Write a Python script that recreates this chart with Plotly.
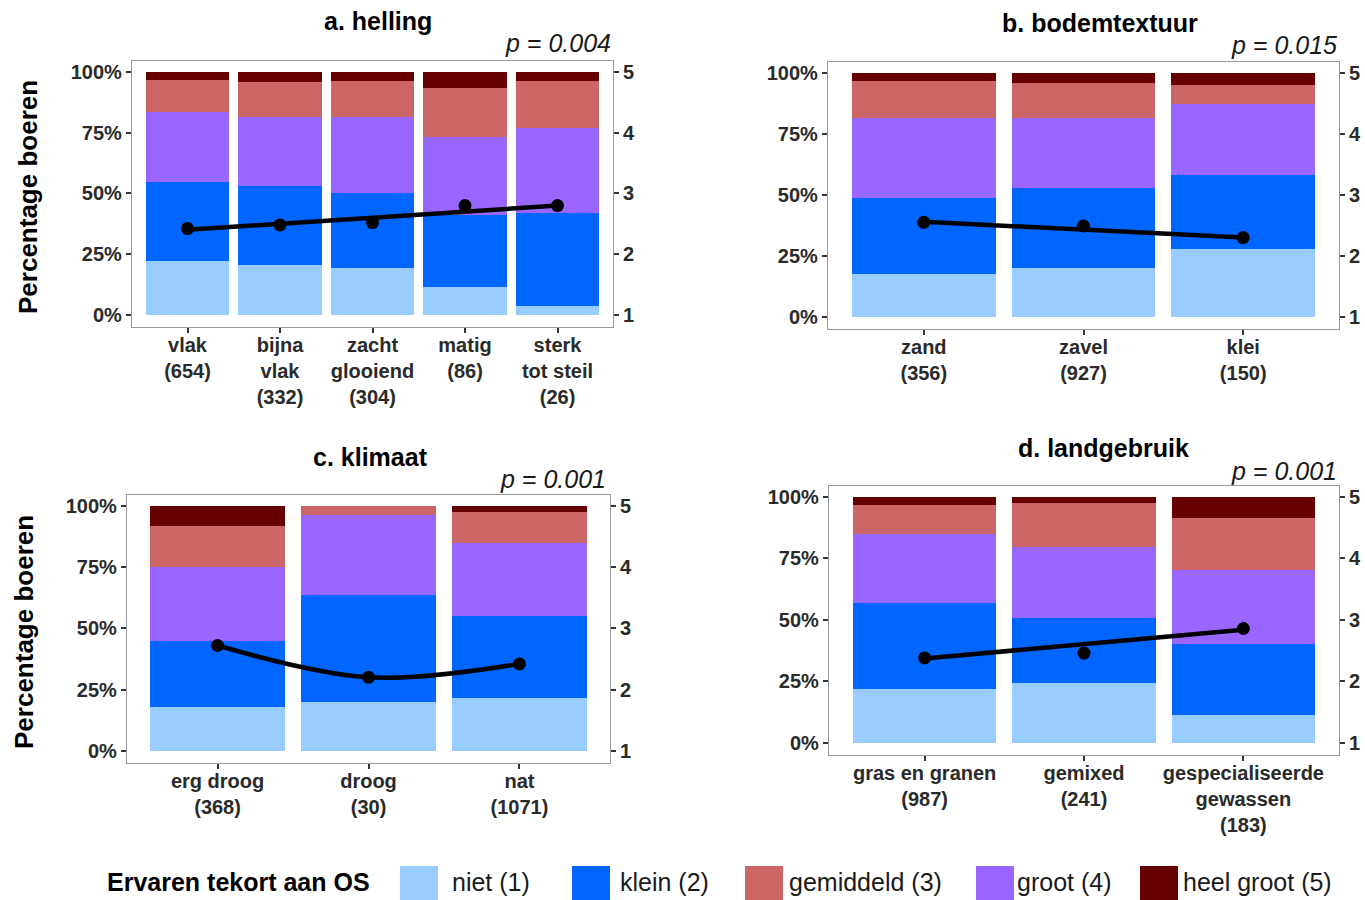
import plotly.graph_objects as go

W, H = 1365, 900

# ---------------- data ----------------
level_labels = ["niet (1)", "klein (2)", "gemiddeld (3)", "groot (4)", "heel groot (5)"]
level_colors = ["#99CCFF", "#0066FF", "#CC6666", "#9966FF", "#660000"]
# stacking order bottom -> top as drawn in the reference
stack_order = ["niet (1)", "klein (2)", "groot (4)", "gemiddeld (3)", "heel groot (5)"]

# a. helling
a_cats = ["vlak<br>(654)", "bijna<br>vlak<br>(332)", "zacht<br>glooiend<br>(304)", "matig<br>(86)", "sterk<br>tot steil<br>(26)"]
a_niet = [22.0, 20.5, 19.2, 11.3, 3.5]
a_klein = [32.8, 32.4, 30.9, 30.0, 38.5]
a_groot = [28.8, 28.7, 31.5, 31.9, 35.0]
a_gemiddeld = [13.0, 14.3, 14.6, 20.1, 19.3]
a_heelgroot = [3.4, 4.1, 3.8, 6.7, 3.7]
a_mean = [2.42, 2.48, 2.52, 2.80, 2.80]
a_fit = [2.40, 2.50, 2.60, 2.70, 2.80]

# b. bodemtextuur
b_cats = ["zand<br>(356)", "zavel<br>(927)", "klei<br>(150)"]
b_niet = [17.4, 20.1, 27.9]
b_klein = [31.5, 32.6, 30.2]
b_groot = [32.6, 28.8, 29.2]
b_gemiddeld = [15.3, 14.4, 7.8]
b_heelgroot = [3.2, 4.1, 4.9]
b_mean = [2.55, 2.49, 2.30]
b_fit = [2.56, 2.43, 2.30]

# c. klimaat
c_cats = ["erg droog<br>(368)", "droog<br>(30)", "nat<br>(1071)"]
c_niet = [18.0, 20.1, 21.7]
c_klein = [26.8, 43.7, 33.5]
c_groot = [30.1, 32.4, 29.6]
c_gemiddeld = [17.1, 3.8, 12.9]
c_heelgroot = [8.0, 0.0, 2.3]
c_mean = [2.72, 2.20, 2.42]
c_fit = [2.72, 2.20, 2.42]

# d. landgebruik
d_cats = ["gras en granen<br>(987)", "gemixed<br>(241)", "gespecialiseerde<br>gewassen<br>(183)"]
d_niet = [22.0, 24.4, 11.3]
d_klein = [34.7, 26.5, 29.0]
d_groot = [28.4, 28.7, 30.0]
d_gemiddeld = [11.5, 18.1, 21.0]
d_heelgroot = [3.4, 2.3, 8.7]
d_mean = [2.38, 2.46, 2.86]
d_fit = [2.37, 2.61, 2.84]

titles = ["a. helling", "b. bodemtextuur", "c. klimaat", "d. landgebruik"]
pvalues = ["p = 0.004", "p = 0.015", "p = 0.001", "p = 0.001"]
y_title = "Percentage boeren"
legend_title = "Ervaren tekort aan OS"
pct_ticks = [0, 25, 50, 75, 100]
pct_labels = ["0%", "25%", "50%", "75%", "100%"]
score_ticks = [1, 2, 3, 4, 5]
score_labels = ["1", "2", "3", "4", "5"]

# ---------------- layout helpers ----------------
FONT = "Liberation Sans, Arial, sans-serif"
TXT = "#2a2a2a"

def px_x(x):
    return x / W

def px_y(y):
    return 1 - y / H

panels = [
    dict(cats=a_cats, series={"niet (1)": a_niet, "klein (2)": a_klein, "groot (4)": a_groot,
                              "gemiddeld (3)": a_gemiddeld, "heel groot (5)": a_heelgroot},
         mean=a_mean, fit=a_fit, shape="linear", box=(132, 613, 61, 327),
         title_xy=(378, 21), p_xy=(613, 43), ytitle_xy=(28, 197)),
    dict(cats=b_cats, series={"niet (1)": b_niet, "klein (2)": b_klein, "groot (4)": b_groot,
                              "gemiddeld (3)": b_gemiddeld, "heel groot (5)": b_heelgroot},
         mean=b_mean, fit=b_fit, shape="linear", box=(828, 1339, 62, 329),
         title_xy=(1100, 23), p_xy=(1339, 45), ytitle_xy=None),
    dict(cats=c_cats, series={"niet (1)": c_niet, "klein (2)": c_klein, "groot (4)": c_groot,
                              "gemiddeld (3)": c_gemiddeld, "heel groot (5)": c_heelgroot},
         mean=c_mean, fit=c_fit, shape="spline", box=(127, 610, 495, 763),
         title_xy=(371, 457), p_xy=(608, 479), ytitle_xy=(24, 632)),
    dict(cats=d_cats, series={"niet (1)": d_niet, "klein (2)": d_klein, "groot (4)": d_groot,
                              "gemiddeld (3)": d_gemiddeld, "heel groot (5)": d_heelgroot},
         mean=d_mean, fit=d_fit, shape="linear", box=(829, 1339, 486, 755),
         title_xy=(1103, 448), p_xy=(1339, 471), ytitle_xy=None),
]

color_of = dict(zip(level_labels, level_colors))
YR = [-5, 104.5]
Y2R = [1 + 4 * YR[0] / 100, 1 + 4 * YR[1] / 100]

fig = go.Figure()
layout = {}
annotations = []
shapes = []

tickfont = dict(family=FONT, size=20, color=TXT, weight="bold")

for i, p in enumerate(panels):
    xa = "x" if i == 0 else f"x{i + 1}"
    ya = "y" if i == 0 else f"y{2 * i + 1}"
    ya2 = f"y{2 * i + 2}"
    xkey = "xaxis" if i == 0 else f"xaxis{i + 1}"
    ykey = "yaxis" if i == 0 else f"yaxis{2 * i + 1}"
    y2key = f"yaxis{2 * i + 2}"
    l, r, t, b = p["box"]
    n = len(p["cats"])

    for lvl in stack_order:
        fig.add_trace(go.Bar(x=p["cats"], y=p["series"][lvl], name=lvl,
                             marker=dict(color=color_of[lvl], line=dict(width=0)),
                             xaxis=xa, yaxis=ya, showlegend=False,
                             hovertemplate=lvl + ": %{y:.1f}%<extra></extra>"))
    # fitted trend line
    fig.add_trace(go.Scatter(x=p["cats"], y=p["fit"], mode="lines",
                             line=dict(color="black", width=4.5, shape=p["shape"], smoothing=1.0),
                             xaxis=xa, yaxis=ya2, showlegend=False, hoverinfo="skip"))
    # mean scores
    fig.add_trace(go.Scatter(x=p["cats"], y=p["mean"], mode="markers",
                             marker=dict(color="black", size=13),
                             xaxis=xa, yaxis=ya2, showlegend=False,
                             hovertemplate="gemiddelde: %{y:.2f}<extra></extra>"))

    layout[xkey] = dict(domain=[px_x(l), px_x(r)], anchor=ya, type="category",
                        range=[-0.6, n - 0.4], showline=True, mirror=True,
                        linecolor="#9a9a9a", linewidth=1.2, ticks="outside", ticklen=5,
                        tickwidth=1.5, tickcolor="#333333", showgrid=False, zeroline=False,
                        tickfont=tickfont, ticklabelstandoff=-5,
                        automargin=False, fixedrange=True)
    layout[ykey] = dict(domain=[px_y(b), px_y(t)], anchor=xa, range=YR,
                        tickmode="array", tickvals=pct_ticks, ticktext=pct_labels,
                        showline=True, mirror=True,
                        linecolor="#9a9a9a", linewidth=1.2, ticks="outside", ticklen=5,
                        tickwidth=1.5, tickcolor="#333333", showgrid=False, zeroline=False,
                        tickfont=tickfont, automargin=False, fixedrange=True)
    layout[y2key] = dict(overlaying=ya, anchor=xa, side="right", range=Y2R,
                         tickmode="array", tickvals=score_ticks, ticktext=score_labels,
                         showline=False, ticks="outside", ticklen=5,
                         tickwidth=1.5, tickcolor="#333333", showgrid=False, zeroline=False,
                         tickfont=tickfont, automargin=False, fixedrange=True)

    tx, ty = p["title_xy"]
    annotations.append(dict(text=titles[i], x=px_x(tx), y=px_y(ty), xref="paper", yref="paper",
                            xanchor="center", yanchor="middle", showarrow=False,
                            font=dict(family=FONT, size=25, color="black", weight="bold")))
    qx, qy = p["p_xy"]
    annotations.append(dict(text="<i>" + pvalues[i] + "</i>", x=px_x(qx), y=px_y(qy),
                            xref="paper", yref="paper", xanchor="right", yanchor="middle",
                            showarrow=False, font=dict(family=FONT, size=25, color="#1a1a1a")))
    if p["ytitle_xy"] is not None:
        yx, yy = p["ytitle_xy"]
        annotations.append(dict(text=y_title, x=px_x(yx), y=px_y(yy), xref="paper", yref="paper",
                                xanchor="center", yanchor="middle", textangle=-90, showarrow=False,
                                font=dict(family=FONT, size=26, color="black", weight="bold")))

# ---------------- manual legend ----------------
annotations.append(dict(text=legend_title, x=px_x(105), y=px_y(882), xref="paper", yref="paper",
                        xanchor="left", yanchor="middle", showarrow=False,
                        font=dict(family=FONT, size=25, color="black", weight="bold")))
swatch_left = [400, 572, 745, 976, 1140]
label_left = [450, 618, 787, 1015, 1181]
for lbl, col, sx, lx in zip(level_labels, level_colors, swatch_left, label_left):
    shapes.append(dict(type="rect", xref="paper", yref="paper",
                       x0=px_x(sx), x1=px_x(sx + 38), y0=px_y(901), y1=px_y(866),
                       fillcolor=col, line=dict(width=0)))
    annotations.append(dict(text=lbl, x=px_x(lx), y=px_y(882), xref="paper", yref="paper",
                            xanchor="left", yanchor="middle", showarrow=False,
                            font=dict(family=FONT, size=25, color="#1a1a1a")))

fig.update_layout(
    width=W, height=H,
    margin=dict(l=0, r=0, t=0, b=0, pad=0, autoexpand=False),
    paper_bgcolor="white", plot_bgcolor="white",
    barmode="stack", bargap=0.1,
    showlegend=False,
    annotations=annotations, shapes=shapes,
    font=dict(family=FONT, color=TXT),
    **layout,
)

fig.write_html("out.html", config=dict(displayModeBar=False),
               post_script="document.body.style.margin='0';document.body.style.overflow='hidden';")
